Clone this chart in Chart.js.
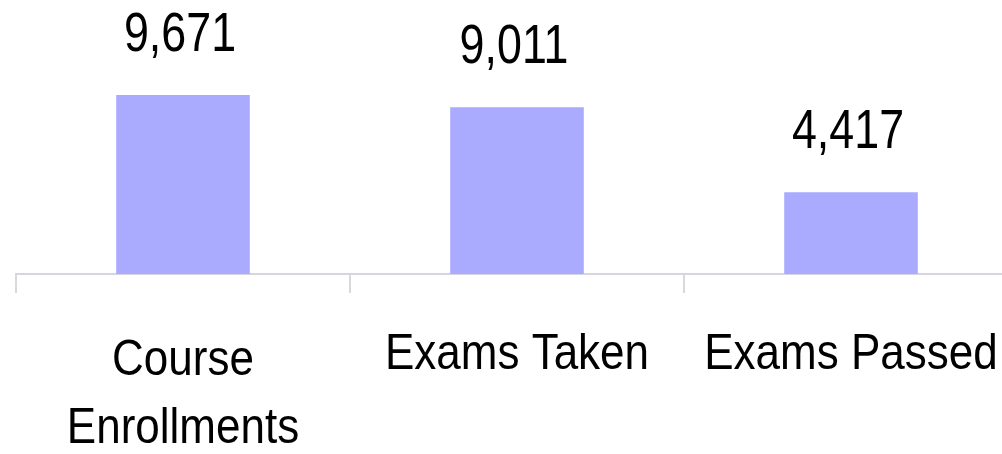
<!DOCTYPE html>
<html lang="en">
<head>
  <meta charset="UTF-8" />
  <title>Enrollments</title>
  <style>
    html, body { margin: 0; padding: 0; background: #fff; overflow: hidden; }
    #wrap { width: 1020px; height: 454px; }
  </style>
</head>
<body>
  <div id="wrap"><canvas id="chart"></canvas></div>

  <script src="https://cdn.jsdelivr.net/npm/chart.js"></script>
  <script>
    const categories = [['Course', 'Enrollments'], ['Exams Taken'], ['Exams Passed']];
    const counts = [9671, 9011, 4417];

    const FONT = '"Liberation Sans", Arial, sans-serif';

    // squeezed text, the original uses a narrow face
    function narrowText(ctx, text, x, y, sx) {
      ctx.save();
      ctx.translate(x, y);
      ctx.scale(sx, 1);
      ctx.fillText(text, 0, 0);
      ctx.restore();
    }

    const textLabels = {
      id: 'textLabels',
      afterDraw(chart) {
        const ctx = chart.ctx;
        const xs = chart.scales.x;
        const meta = chart.getDatasetMeta(0);
        ctx.save();
        ctx.fillStyle = '#000';
        ctx.textAlign = 'center';
        ctx.textBaseline = 'alphabetic';

        // values above bars
        ctx.font = '56px ' + FONT;
        meta.data.forEach((bar, i) => {
          narrowText(ctx, counts[i].toLocaleString('en-US'), bar.x - 3, bar.y - 44, 0.8);
        });

        // category names under the axis
        ctx.font = '50px ' + FONT;
        categories.forEach((lines, i) => {
          const cx = xs.getPixelForValue(i);
          const y0 = lines.length > 1 ? 375 : 369;
          lines.forEach((line, j) => {
            narrowText(ctx, line, cx, y0 + j * 68, 0.88);
          });
        });
        ctx.restore();
      }
    };

    new Chart(document.getElementById('chart'), {
      type: 'bar',
      data: {
        labels: categories,
        datasets: [{
          data: counts,
          backgroundColor: '#aaaaff',
          borderWidth: 0,
          barPercentage: 0.4,
          categoryPercentage: 1
        }]
      },
      options: {
        responsive: true,
        maintainAspectRatio: false,
        animation: false,
        layout: { padding: { left: 16, right: 2, top: 0, bottom: 0 } },
        plugins: { legend: { display: false }, tooltip: { enabled: false } },
        scales: {
          y: { display: false, min: 0, max: 14800 },
          x: {
            afterFit(scale) { scale.height = 180; },
            border: { color: '#d8d5e2', width: 2 },
            grid: { drawOnChartArea: false, drawTicks: true, tickLength: 19, color: '#d9d9d9', lineWidth: 2 },
            ticks: { display: false, autoSkip: false }
          }
        }
      },
      plugins: [textLabels]
    });
  </script>
</body>
</html>
